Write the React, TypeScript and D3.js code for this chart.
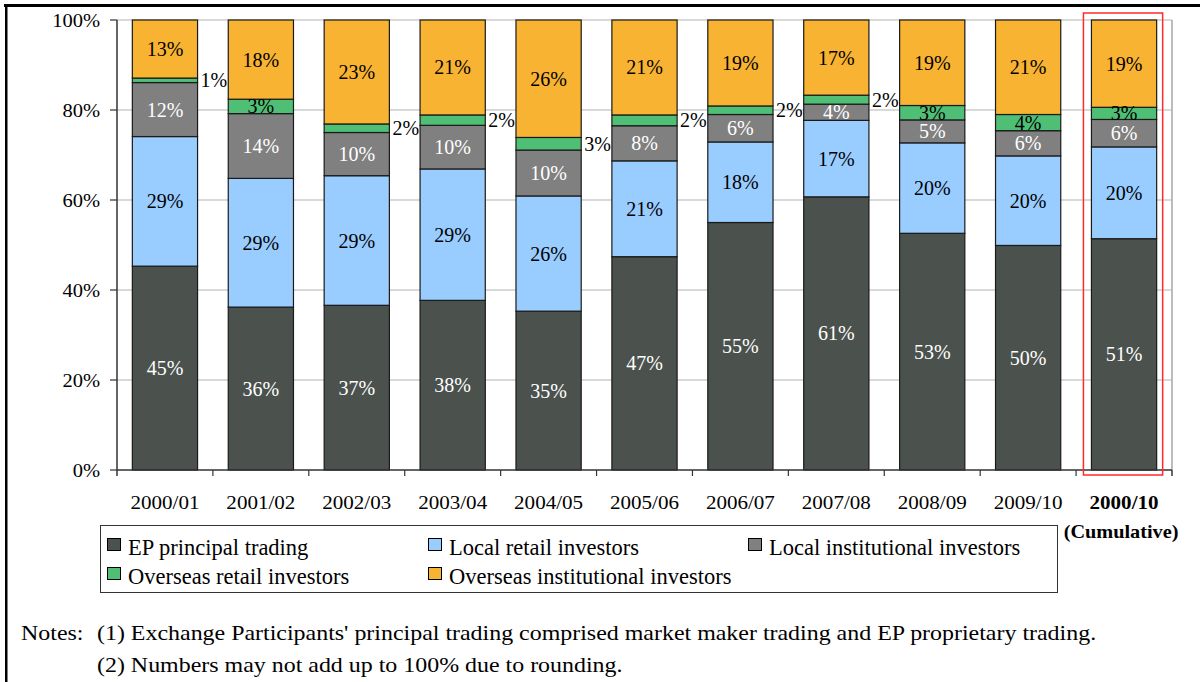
import * as d3 from 'd3';

const categories = ['2000/01', '2001/02', '2002/03', '2003/04', '2004/05', '2005/06', '2006/07', '2007/08', '2008/09', '2009/10', '2000/10'];

// shares of turnover, %
const epPrincipal = [45.3, 36.2, 36.6, 37.7, 35.3, 47.4, 55.0, 60.7, 52.6, 49.9, 51.4];
const localRetail = [28.8, 28.6, 28.8, 29.2, 25.6, 21.3, 17.9, 17.0, 20.1, 19.9, 20.4];
const localInstitutional = [12.0, 14.4, 9.6, 9.7, 10.2, 7.8, 6.1, 3.6, 5.1, 5.6, 6.1];
const overseasRetail = [1.0, 3.2, 1.9, 2.3, 2.8, 2.4, 1.9, 2.0, 3.2, 3.6, 2.7];
const overseasInstitutional = [12.9, 17.6, 23.1, 21.1, 26.1, 21.1, 19.1, 16.7, 19.0, 21.0, 19.4];

const seriesNames = ['EP principal trading', 'Local retail investors', 'Local institutional investors', 'Overseas retail investors', 'Overseas institutional investors'];
const seriesColors = ['#4b524e', '#99ccff', '#808080', '#50bf76', '#f9b332'];
const labelColors = ['#ffffff', '#000000', '#ffffff', '#000000', '#000000'];

// overseas retail labels that sit to the right of the bar
const outsideLabelCats = ['2000/01', '2002/03', '2003/04', '2004/05', '2005/06', '2006/07', '2007/08'];

const yTicks = [0, 20, 40, 60, 80, 100];

const notes = [
  "(1) Exchange Participants' principal trading comprised market maker trading and EP proprietary trading.",
  '(2) Numbers may not add up to 100% due to rounding.',
];

const FONT = 'Tinos';

// text that is a little wider than the font (the source image is stretched)
function T({ x, y, size, sx = 1, anchor = 'start', weight = 'normal', fill = '#000', children }: any) {
  return (
    <text transform={`translate(${x},${y}) scale(${sx},1)`} textAnchor={anchor} fontSize={size}
      fontWeight={weight} fill={fill} fontFamily={FONT} style={{ fontFamily: FONT }}>{children}</text>
  );
}

export default function App() {
  const width = 1200;
  const height = 682;
  const left = 117, right = 1172, top = 20, bottom = 470;

  const rows = categories.map((c, i) => ({
    cat: c,
    s0: epPrincipal[i],
    s1: localRetail[i],
    s2: localInstitutional[i],
    s3: overseasRetail[i],
    s4: overseasInstitutional[i],
  }));

  const keys = ['s0', 's1', 's2', 's3', 's4'];
  const stacked = d3.stack<any>().keys(keys)(rows);

  const x = d3.scaleBand().domain(categories).range([left, right]).paddingInner(0.32).paddingOuter(0.16);
  const y = d3.scaleLinear().domain([0, 100]).range([bottom, top]);
  const step = x.step();
  const bw = x.bandwidth();

  const lastX = x(categories[categories.length - 1])!;

  const legendCols = [107, 428, 748];
  const legendRows = [538, 567];

  return (
    <svg width={width} height={height} style={{ position: 'absolute', left: 0, top: 0 }}>
      {/* frame */}
      <rect x={4} y={4} width={1196} height={3} fill="#000" />
      <rect x={5} y={4} width={2.5} height={678} fill="#000" />

      {/* gridlines and plot border */}
      {yTicks.filter(t => t > 0).map(t => (
        <line key={t} x1={left} x2={right} y1={y(t)} y2={y(t)} stroke="#b3b3b3" strokeWidth={1.2} />
      ))}
      <line x1={right} x2={right} y1={top} y2={bottom + 6} stroke="#a6a6a6" strokeWidth={1.5} />

      {/* bars */}
      {stacked.map((layer, si) => (
        <g key={si}>
          {layer.map((d: any, ci: number) => (
            <rect key={ci} x={x(d.data.cat)} y={y(d[1])} width={bw} height={y(d[0]) - y(d[1])}
              fill={seriesColors[si]} stroke="#1a1a1a" strokeWidth={1.2} />
          ))}
        </g>
      ))}

      {/* axes */}
      <line x1={left} x2={left} y1={top} y2={bottom + 6} stroke="#333" strokeWidth={1.5} />
      <line x1={left} x2={right} y1={bottom} y2={bottom} stroke="#333" strokeWidth={1.5} />
      {yTicks.map(t => (
        <g key={t}>
          <line x1={left - 7} x2={left} y1={y(t)} y2={y(t)} stroke="#333" strokeWidth={1.2} />
          <T x={100} y={y(t) + 6.5} size={19} sx={1.08} anchor="end">{`${t}%`}</T>
        </g>
      ))}
      {categories.map((c, i) => (
        <line key={c} x1={left + step * (i + 1)} x2={left + step * (i + 1)} y1={bottom} y2={bottom + 6} stroke="#333" strokeWidth={1.2} />
      ))}
      {categories.map((c, i) => (
        <T key={c} x={x(c)! + bw / 2} y={509} size={18} sx={1.17} anchor="middle"
          weight={i === categories.length - 1 ? 'bold' : 'normal'}>{c}</T>
      ))}
      <T x={lastX + bw / 2 - 3} y={538} size={19.5} sx={1.04} anchor="middle" weight="bold">(Cumulative)</T>

      {/* value labels */}
      {stacked.map((layer, si) => (
        <g key={si}>
          {layer.map((d: any, ci: number) => {
            const v = d[1] - d[0];
            const cy = (y(d[0]) + y(d[1])) / 2;
            const outside = si === 3 && outsideLabelCats.includes(d.data.cat);
            return (
              <T key={ci} x={outside ? x(d.data.cat)! + bw + 3 : x(d.data.cat)! + bw / 2} y={cy + 7}
                size={20} anchor={outside ? 'start' : 'middle'}
                fill={outside ? '#000' : labelColors[si]}>{`${Math.round(v)}%`}</T>
            );
          })}
        </g>
      ))}

      {/* cumulative highlight */}
      <rect x={lastX - 8} y={13} width={bw + 14} height={462} fill="none" stroke="#ff2a2a" strokeWidth={1.5} />

      {/* legend */}
      <rect x={100.5} y={525.5} width={957} height={67} fill="none" stroke="#333" strokeWidth={1} />
      {seriesNames.map((n, i) => {
        const lx = legendCols[i % 3];
        const ly = legendRows[Math.floor(i / 3)];
        return (
          <g key={n}>
            <rect x={lx + 0.5} y={ly + 0.5} width={13} height={12} fill={seriesColors[i]} stroke="#000" strokeWidth={1} />
            <T x={lx + 21} y={ly + 17} size={22.5}>{n}</T>
          </g>
        );
      })}

      {/* notes */}
      <T x={21} y={640} size={21} sx={1.14}>Notes:</T>
      {notes.map((n, i) => (
        <T key={i} x={97} y={640 + i * 32} size={21} sx={1.14}>{n}</T>
      ))}
    </svg>
  );
}
